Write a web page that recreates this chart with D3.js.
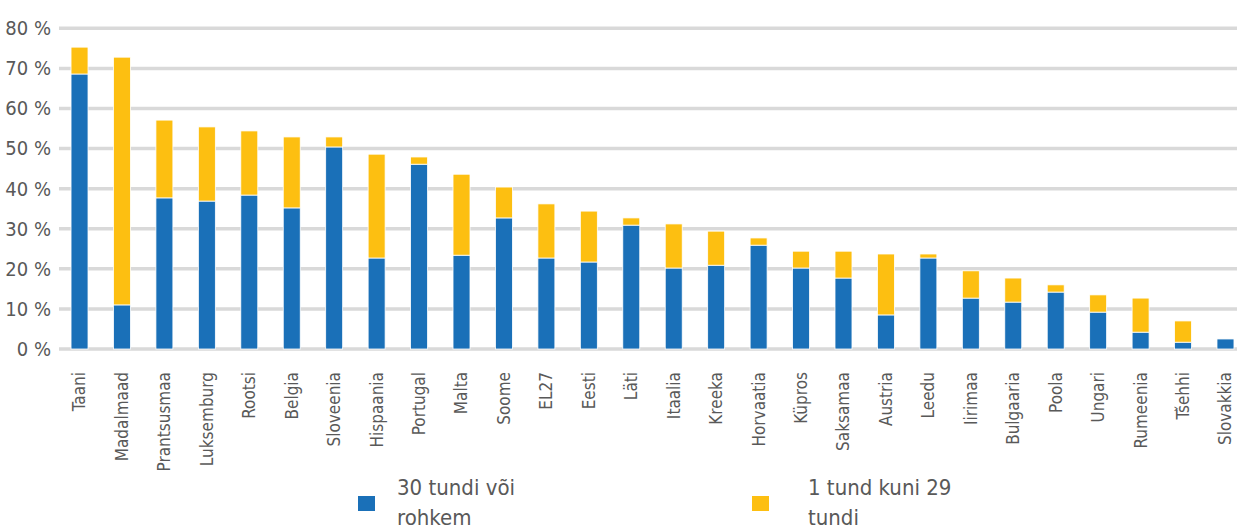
<!DOCTYPE html>
<html>
<head>
<meta charset="utf-8">
<script src="https://cdn.jsdelivr.net/npm/d3@7"></script>
<style>
body { margin: 0; background: #fff; }
svg { font-family: "DejaVu Sans Condensed", "DejaVu Sans", sans-serif; }
</style>
</head>
<body>
<svg id="mysvg" width="1237" height="527"></svg>
<script>
var countries = ['Taani', 'Madalmaad', 'Prantsusmaa', 'Luksemburg', 'Rootsi', 'Belgia', 'Sloveenia',
	'Hispaania', 'Portugal', 'Malta', 'Soome', 'EL27', 'Eesti', 'Läti', 'Itaalia', 'Kreeka',
	'Horvaatia', 'Küpros', 'Saksamaa', 'Austria', 'Leedu', 'Iirimaa', 'Bulgaaria', 'Poola',
	'Ungari', 'Rumeenia', 'Tšehhi', 'Slovakkia']
// 30 tundi või rohkem
var long = [68.6, 11.0, 37.7, 36.9, 38.4, 35.2, 50.4, 22.7, 46.1, 23.4, 32.7, 22.7, 21.7, 30.9,
	20.2, 20.9, 25.9, 20.2, 17.7, 8.5, 22.7, 12.7, 11.7, 14.2, 9.2, 4.2, 1.7, 2.5]
// bar totals, the yellow part (1 tund kuni 29 tundi) sits on top of the blue one
var total = [75.3, 72.8, 57.1, 55.4, 54.4, 52.9, 52.9, 48.6, 47.9, 43.6, 40.4, 36.2, 34.4, 32.7,
	31.2, 29.4, 27.7, 24.4, 24.4, 23.7, 23.7, 19.5, 17.7, 16.0, 13.5, 12.7, 7.0, 2.5]
var yTicks = [0, 10, 20, 30, 40, 50, 60, 70, 80]
var legendNames = [['30 tundi või', 'rohkem'], ['1 tund kuni 29', 'tundi']]

var blue = '#1a70b8'
var yellow = '#fdbf11'
var grey = '#595959'

var svg = d3.select('#mysvg')

var x = d3.scaleBand().domain(countries).range([58.3, 1246.7]).paddingInner(0.6).paddingOuter(0.3)
var y = d3.scaleLinear().domain([0, 80]).range([349, 28.3])

// grid
svg.append('g').selectAll('line').data(yTicks).enter().append('line')
	.attr('x1', 59).attr('x2', 1237)
	.attr('y1', function(d) { return y(d) }).attr('y2', function(d) { return y(d) })
	.attr('stroke', '#d9d9d9').attr('stroke-width', 3.5)

var yAxis = d3.axisLeft(y).tickValues(yTicks).tickSize(0).tickPadding(0)
	.tickFormat(function(d) { return d + ' %' })
var ya = svg.append('g').attr('transform', 'translate(51,0)').call(yAxis)
ya.select('.domain').remove()
ya.selectAll('text').attr('fill', grey).style('font-size', '20px')
	.style('font-family', '"DejaVu Sans Condensed", sans-serif')

var bars = svg.append('g')
countries.forEach(function(c, i) {
	var bx = x(c)
	var bw = x.bandwidth()
	bars.append('rect').attr('x', bx).attr('width', bw)
		.attr('y', y(long[i])).attr('height', y(0) - y(long[i]))
		.attr('fill', blue).attr('stroke', '#fff').attr('stroke-width', 0.8)
	var rest = total[i] - long[i]
	if (rest > 0) {
		bars.append('rect').attr('x', bx).attr('width', bw)
			.attr('y', y(total[i])).attr('height', y(long[i]) - y(total[i]))
			.attr('fill', yellow).attr('stroke', '#fff').attr('stroke-width', 0.8)
	}
})

// x labels
var xAxis = d3.axisBottom(x).tickSize(0).tickPadding(0)
var xa = svg.append('g').attr('transform', 'translate(0,372)').call(xAxis)
xa.select('.domain').remove()
xa.selectAll('text')
	.attr('transform', 'rotate(-90)')
	.attr('text-anchor', 'end')
	.attr('x', 0).attr('y', 0).attr('dy', '0.35em')
	.attr('fill', grey).style('font-size', '17px')
	.style('font-family', '"DejaVu Sans Condensed", sans-serif')

// legend
var legendX = [358, 752]
var legendTextX = [397, 808]
var legendColors = [blue, yellow]
legendNames.forEach(function(lines, i) {
	var g = svg.append('g')
	g.append('rect').attr('x', legendX[i]).attr('y', 496).attr('width', 17).attr('height', 15).attr('fill', legendColors[i])
	lines.forEach(function(t, j) {
		g.append('text').attr('x', legendTextX[i]).attr('y', 495 + j * 30).text(t)
			.attr('fill', grey).style('font-size', '22px')
	})
})
</script>
</body>
</html>
